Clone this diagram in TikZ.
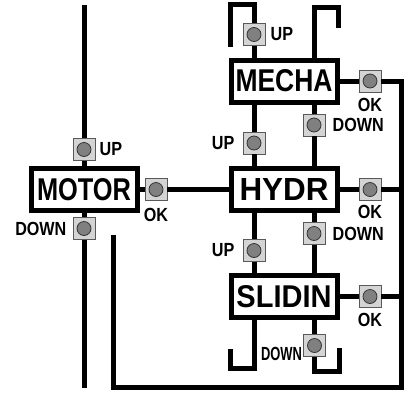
\documentclass[tikz,border=0pt]{standalone}
\usepackage{fontspec}
\setmainfont{Liberation Sans}[FakeStretch=0.85]
\usetikzlibrary{positioning}

% unit names are squeezed to fill their boxes
\newcommand{\unitname}[2]{\resizebox{#1pt}{22pt}{#2}}

\begin{document}
\begin{tikzpicture}[
  x=1pt, y=-1pt,
  font=\fontsize{19}{19}\selectfont\bfseries,
  unit/.style={draw, line width=5pt, fill=white, minimum width=106pt, minimum height=42pt, inner sep=0pt},
  btn/.style={draw=black!65, line width=0.8pt, fill=black!17, minimum size=22pt, inner sep=0pt,
    path picture={\draw[black!80, fill=black!50, line width=0.8pt] (path picture bounding box.center) circle (7pt);}},
  tag/.style={inner sep=0pt},
  wire/.style={line width=5pt}
]
\useasboundingbox (0,0) rectangle (411,394);
% units
\node[unit] (motor) at (84,189.5) {\unitname{94}{MOTOR}};
\node[unit] (mecha) at (284,81) {\unitname{97}{MECHA}};
\node[unit] (hydr) at (284,189.5) {\unitname{89}{HYDR}};
\node[unit] (slidin) at (284,296.5) {\unitname{95}{SLIDIN}};
% buttons
\node[btn] (upMotor) at (84,149.5) {};
\node[btn] (downMotor) at (84,228.5) {};
\node[btn] (okMotor) at (156,189.5) {};
\node[btn] (upMecha) at (254,34.5) {};
\node[btn] (okMecha) at (370,81) {};
\node[btn] (downMecha) at (314,125) {};
\node[btn] (upHydr) at (254,143) {};
\node[btn] (okHydr) at (370,189.5) {};
\node[btn] (downHydr) at (314,233.5) {};
\node[btn] (upSlidin) at (254,250.5) {};
\node[btn] (okSlidin) at (370,296.5) {};
\node[btn] (downSlidin) at (314.5,345.5) {};
% button labels
\node[tag, right=4pt of upMotor] (tUpMotor) {UP};
\node[tag, left=6pt of downMotor] (tDownMotor) {DOWN};
\node[tag, below=7pt of okMotor] (tOkMotor) {OK};
\node[tag, right=5pt of upMecha] (tUpMecha) {UP};
\node[tag, below=6pt of okMecha] (tOkMecha) {OK};
\node[tag, right=7pt of downMecha] (tDownMecha) {DOWN};
\node[tag, left=8pt of upHydr] (tUpHydr) {UP};
\node[tag, below=4pt of okHydr] (tOkHydr) {OK};
\node[tag, right=7pt of downHydr] (tDownHydr) {DOWN};
\node[tag, left=8pt of upSlidin] (tUpSlidin) {UP};
\node[tag, below=5pt of okSlidin] (tOkSlidin) {OK};
\node[tag, left=1pt of downSlidin, yshift=-8pt] (tDownSlidin) {\scalebox{0.8}[1]{DOWN}};
% motor line
\coordinate (motorTop) at (84,5);
\coordinate (motorEnd) at (84,388);
\draw[wire] (motorTop) -- (upMotor);
\draw[wire] (upMotor) -- (motor);
\draw[wire] (motor) -- (downMotor);
\draw[wire] (downMotor) -- (motorEnd);
\draw[wire] (motor) -- (okMotor);
\draw[wire] (okMotor) -- (hydr);
% hooks above mecha
\coordinate (mechaHookL) at (230,47);
\coordinate (mechaCapL) at (254,4.5);
\coordinate (mechaCapR) at (314,7.5);
\coordinate (mechaHookR) at (338,28);
\draw[wire] (mechaHookL) |- (mechaCapL) -- (upMecha);
\draw[wire] (upMecha) -- (upMecha |- mecha.north);
\draw[wire] (mechaCapR |- mecha.north) -- (mechaCapR) -| (mechaHookR);
% between the units
\draw[wire] (upHydr |- mecha.south) -- (upHydr) -- (upHydr |- hydr.north);
\draw[wire] (downMecha |- mecha.south) -- (downMecha) -- (downMecha |- hydr.north);
\draw[wire] (upSlidin |- hydr.south) -- (upSlidin) -- (upSlidin |- slidin.north);
\draw[wire] (downHydr |- hydr.south) -- (downHydr) -- (downHydr |- slidin.north);
% hooks below slidin
\coordinate (slidinHookL) at (230,349);
\coordinate (slidinFootL) at (254,368);
\coordinate (slidinFootR) at (314.5,371);
\coordinate (slidinHookR) at (339,348);
\draw[wire] (slidinFootL |- slidin.south) -- (slidinFootL) -| (slidinHookL);
\draw[wire] (downSlidin |- slidin.south) -- (downSlidin) -- (slidinFootR) -| (slidinHookR);
% ok loop
\coordinate (loopNE) at (401,81);
\coordinate (loopSE) at (401,387.5);
\coordinate (loopStart) at (113,235);
\draw[wire] (mecha) -- (okMecha);
\draw[wire] (okMecha) -- (loopNE) -- (loopSE) -| (loopStart);
\draw[wire] (hydr) -- (okHydr) -- (okHydr -| loopNE);
\draw[wire] (slidin) -- (okSlidin) -- (okSlidin -| loopNE);
\end{tikzpicture}
\end{document}
